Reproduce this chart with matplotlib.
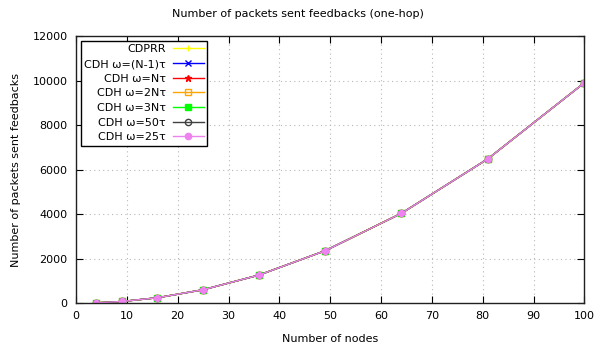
import matplotlib.pyplot as plt

# nodes vs. feedback packets (one-hop)
nodes = [4, 9, 16, 25, 36, 49, 64, 81, 100]
cdprr = [12, 72, 240, 600, 1260, 2352, 4032, 6480, 9900]
cdh_n1 = [12, 72, 240, 600, 1260, 2352, 4032, 6480, 9900]
cdh_n = [12, 72, 240, 600, 1260, 2352, 4032, 6480, 9900]
cdh_2n = [12, 72, 240, 600, 1260, 2352, 4032, 6480, 9900]
cdh_3n = [12, 72, 240, 600, 1260, 2352, 4032, 6480, 9900]
cdh_50 = [12, 72, 240, 600, 1260, 2352, 4032, 6480, 9900]
cdh_25 = [12, 72, 240, 600, 1260, 2352, 4032, 6480, 9900]

series = [
    ("CDPRR", cdprr, "#ffff00", "+", "full"),
    ("CDH ω=(N-1)τ", cdh_n1, "#0000ff", "x", "full"),
    ("CDH ω=Nτ", cdh_n, "#ff0000", "*", "full"),
    ("CDH ω=2Nτ", cdh_2n, "#ffa500", "s", "none"),
    ("CDH ω=3Nτ", cdh_3n, "#00ff00", "s", "full"),
    ("CDH ω=50τ", cdh_50, "#404040", "o", "none"),
    ("CDH ω=25τ", cdh_25, "#ee82ee", "o", "full"),
]

plt.rcParams['font.family'] = ['DejaVu Sans']
plt.rcParams['font.size'] = 8

fig = plt.figure(figsize=(5.96, 3.5), dpi=100)
ax = fig.add_axes([0.1275, 0.134, 0.853, 0.763])

for label, ys, color, marker, fill in series:
    ax.plot(nodes, ys, color=color, marker=marker, fillstyle=fill,
            markersize=4.5, linewidth=1, label=label)

ax.set_xlim(0, 100)
ax.set_ylim(0, 12000)
ax.set_xticks(range(0, 101, 10))
ax.set_yticks(range(0, 12001, 2000))
ax.grid(True, linestyle=(0, (1, 3)), color="#b8b8b8", linewidth=0.8)
ax.tick_params(direction="in", top=True, right=True, length=5, width=0.8,
               pad=6, labelsize=8)
for sp in ax.spines.values():
    sp.set_linewidth(1)
    sp.set_color("#202020")

ax.set_xlabel("Number of nodes", labelpad=9)
ax.set_ylabel("Number of packets sent feedbacks", labelpad=8)
fig.suptitle("Number of packets sent feedbacks (one-hop)", y=0.975, fontsize=8)

leg = ax.legend(loc="upper left", markerfirst=False, fancybox=False,
                edgecolor="black", framealpha=1, handlelength=2.8,
                borderaxespad=0.45, labelspacing=0.42, handletextpad=0.6,
                borderpad=0.3, fontsize=8)
leg.get_frame().set_linewidth(1)
# right-align labels so the line samples line up
leg._legend_box._children[-1]._children[0].align = "right"

fig.savefig("out.png", dpi=100)
